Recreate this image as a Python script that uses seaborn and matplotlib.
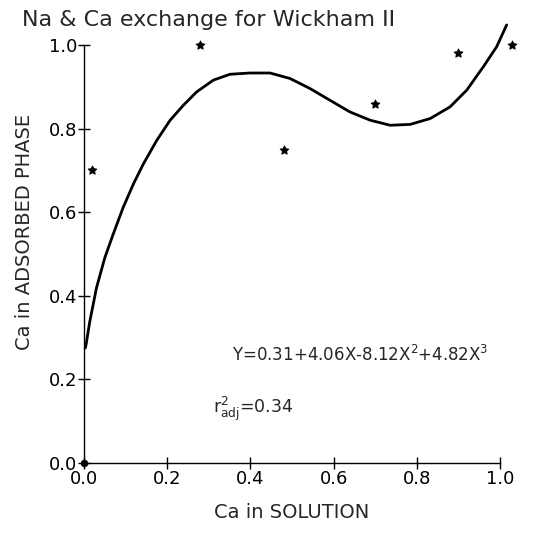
import matplotlib
matplotlib.use("Agg")
import matplotlib.pyplot as plt
import seaborn as sns
import pandas as pd

# observed points (stars)
obs_x = [0.02, 0.28, 0.48, 0.70, 0.90, 1.03]
obs_y = [0.70, 1.00, 0.75, 0.86, 0.98, 1.00]

# origin point
origin_x = [0.0]
origin_y = [0.0]

# fitted curve
curve_x = [0.003, 0.005, 0.014, 0.030, 0.050, 0.070, 0.094, 0.119, 0.143,
           0.175, 0.207, 0.239, 0.271, 0.311, 0.351, 0.399, 0.447, 0.495,
           0.543, 0.591, 0.639, 0.688, 0.736, 0.784, 0.832, 0.880, 0.920,
           0.960, 0.992, 1.016]
curve_y = [0.275, 0.283, 0.339, 0.419, 0.491, 0.547, 0.611, 0.668, 0.716,
           0.772, 0.820, 0.856, 0.888, 0.916, 0.930, 0.933, 0.933, 0.920,
           0.896, 0.868, 0.840, 0.820, 0.808, 0.810, 0.824, 0.852, 0.892,
           0.948, 0.996, 1.048]

ticks = [0.0, 0.2, 0.4, 0.6, 0.8, 1.0]
tick_labels = ["0.0", "0.2", "0.4", "0.6", "0.8", "1.0"]

title = "Na & Ca exchange for Wickham II"
xlabel = "Ca in SOLUTION"
ylabel = "Ca in ADSORBED PHASE"
eq_text = r"Y=0.31+4.06X-8.12X$^{2}$+4.82X$^{3}$"
r2_text = r"r$^{2}_{\mathrm{adj}}$=0.34"

sns.set_style("white")
plt.rcParams["font.family"] = ["DejaVu Sans"]
plt.rcParams["mathtext.default"] = "regular"

fig = plt.figure(figsize=(5.37, 5.37), dpi=100)
ax = fig.add_axes([84 / 537, 74 / 537, 416 / 537, 418 / 537])

curve_df = pd.DataFrame({"x": curve_x, "y": curve_y})
obs_df = pd.DataFrame({"x": obs_x, "y": obs_y})
org_df = pd.DataFrame({"x": origin_x, "y": origin_y})

sns.lineplot(data=curve_df, x="x", y="y", sort=False, color="black",
             linewidth=2.0, ax=ax, clip_on=False)
sns.scatterplot(data=obs_df, x="x", y="y", marker=(5, 1, 0), s=45,
                color="black", edgecolor="black", ax=ax, clip_on=False,
                zorder=5)
sns.scatterplot(data=org_df, x="x", y="y", marker="o", s=25,
                color="black", edgecolor="black", ax=ax, clip_on=False,
                zorder=5)

ax.set_xlim(0, 1)
ax.set_ylim(0, 1)
ax.set_xticks(ticks)
ax.set_xticklabels(tick_labels)
ax.set_yticks(ticks)
ax.set_yticklabels(tick_labels)
ax.tick_params(direction="inout", length=8, width=1, colors="black",
               labelsize=13, left=True, bottom=True, pad=1)
for s in ["top", "right"]:
    ax.spines[s].set_visible(False)
for s in ["left", "bottom"]:
    ax.spines[s].set_color("black")
    ax.spines[s].set_linewidth(1.0)

ax.set_xlabel(xlabel, fontsize=14)
ax.set_ylabel(ylabel, fontsize=14)
ax.xaxis.set_label_coords(0.5, -40 / 418)
ax.yaxis.set_label_coords(-50 / 416, (463 - 232) / 418)

fig.text(22 / 537, 1 - 20 / 537, title, fontsize=16, ha="left", va="center")

ax.text(0.356, 0.245, eq_text, fontsize=12, ha="left", va="baseline")
ax.text(0.31, 0.12, r2_text, fontsize=12.5, ha="left", va="baseline")

fig.savefig("out.png", dpi=100, facecolor="white")
